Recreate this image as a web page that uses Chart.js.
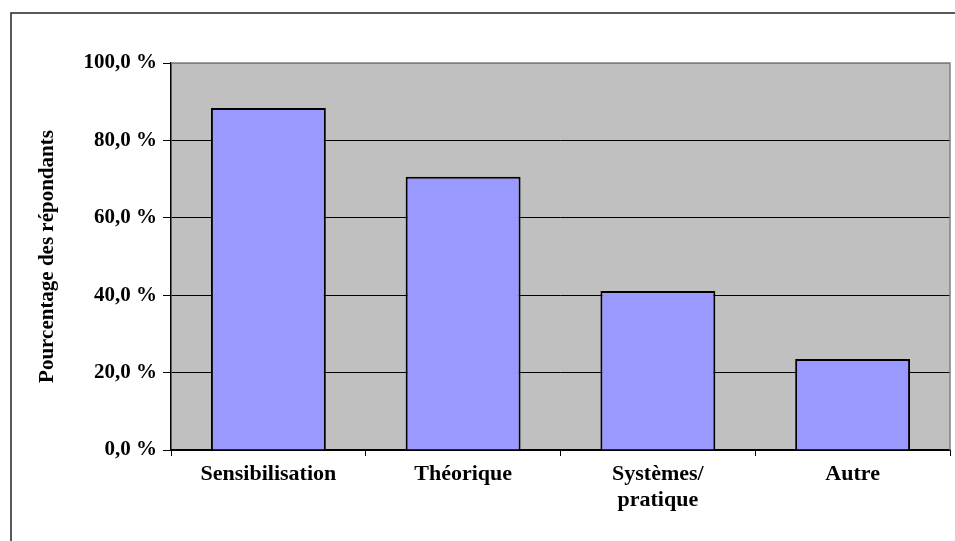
<!DOCTYPE html>
<html>
<head>
<meta charset="utf-8">
<script src="https://cdn.jsdelivr.net/npm/chart.js@4/dist/chart.umd.min.js"></script>
<style>
  html, body { margin: 0; padding: 0; background: #fff; }
  #wrap { width: 955px; height: 541px; position: relative; }
</style>
</head>
<body>
<div id="wrap"><canvas id="myChart"></canvas></div>
<script>
const categories = ['Sensibilisation', 'Théorique', ['Systèmes/', 'pratique'], 'Autre']
const percentValues = [88.4, 70.6, 41.1, 23.5]
const yTickLabels = ['0,0 %', '20,0 %', '40,0 %', '60,0 %', '80,0 %', '100,0 %']
const yTitle = 'Pourcentage des répondants'

const serif = "'Liberation Serif', 'Times New Roman', serif"

// grey plot background + outer frame
const frame = {
    id: 'frame',
    beforeDraw(chart) {
        const ctx = chart.ctx
        const a = chart.chartArea
        ctx.save()
        ctx.fillStyle = '#c0c0c0'
        ctx.fillRect(a.left, a.top, a.right - a.left, a.bottom - a.top)
        ctx.strokeStyle = '#222'
        ctx.lineWidth = 1.5
        ctx.beginPath()
        ctx.moveTo(11, 545)
        ctx.lineTo(11, 13)
        ctx.lineTo(960, 13)
        ctx.stroke()
        ctx.restore()
    },
    afterDraw(chart) {
        const ctx = chart.ctx
        const a = chart.chartArea
        ctx.save()
        ctx.strokeStyle = '#808080'
        ctx.lineWidth = 1.5
        ctx.beginPath()
        ctx.moveTo(a.left, a.top)
        ctx.lineTo(a.right, a.top)
        ctx.lineTo(a.right, a.bottom)
        ctx.stroke()
        ctx.restore()
    }
}

function drawChart() {
    const ctx = document.getElementById('myChart')

    const data = {
        labels: categories,
        datasets: [{
            data: percentValues,
            backgroundColor: '#9999ff',
            borderColor: '#000',
            borderWidth: 2,
            categoryPercentage: 1,
            barPercentage: 0.59
        }]
    }

    const config = {
        type: 'bar',
        data: data,
        plugins: [frame],
        options: {
            responsive: true,
            maintainAspectRatio: false,
            animation: false,
            layout: { padding: { left: 35, top: 63, right: 5, bottom: 0 } },
            plugins: { legend: { display: false }, tooltip: { enabled: false } },
            scales: {
                x: {
                    afterFit: (s) => { s.height = 91 },
                    grid: { drawOnChartArea: false, color: '#000', tickLength: 6, offset: true },
                    border: { color: '#000', width: 1.5 },
                    ticks: {
                        color: '#000',
                        padding: 6,
                        maxRotation: 0,
                        font: { family: serif, size: 22, weight: 'bold', lineHeight: 1.15 }
                    }
                },
                y: {
                    min: 0,
                    max: 100,
                    afterFit: (s) => { s.width = 136 },
                    grid: {
                        color: (c) => c.tick && c.tick.value === 100 ? '#808080' : '#000',
                        lineWidth: 1,
                        tickLength: 8,
                        tickColor: '#000'
                    },
                    border: { color: '#000', width: 1.5 },
                    ticks: {
                        stepSize: 20,
                        color: '#000',
                        padding: 6,
                        font: { family: serif, size: 21, weight: 'bold' },
                        callback: (v, i) => yTickLabels[i]
                    },
                    title: {
                        display: true,
                        text: yTitle,
                        color: '#000',
                        padding: 0,
                        font: { family: serif, size: 21, weight: 'bold' }
                    }
                }
            }
        }
    }

    new Chart(ctx, config)
}

document.addEventListener('DOMContentLoaded', drawChart)
</script>
</body>
</html>
